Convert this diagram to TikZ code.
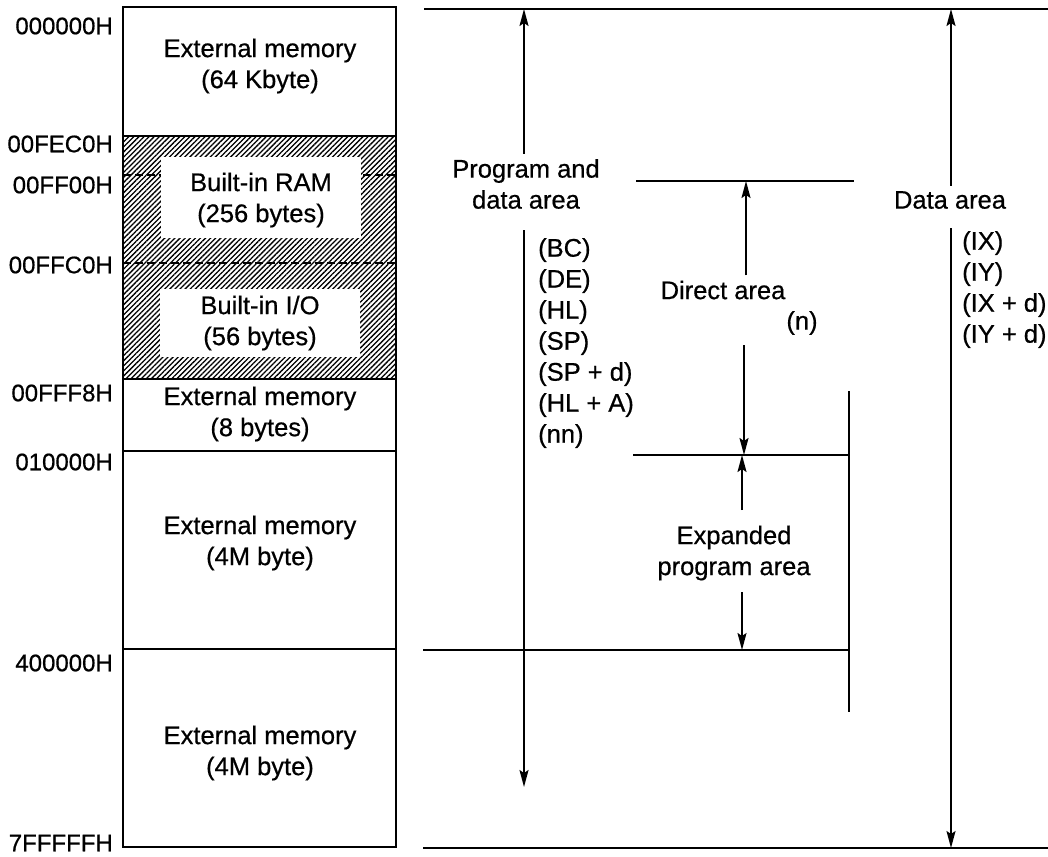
\documentclass[tikz,border=0pt]{standalone}
\usepackage{fontspec}
\setmainfont{Liberation Sans}[UprightFeatures={FakeBold=0.6}]
\usetikzlibrary{arrows.meta,patterns.meta}

\begin{document}
\begin{tikzpicture}[x=1pt,y=-1pt,
    txt/.style={font=\fontsize{25.5}{31}\selectfont, inner sep=0pt, align=center},
    addr/.style={txt, font=\fontsize{24}{28}\selectfont, anchor=east},
    lst/.style={txt, align=left, anchor=north west},
    ln/.style={line width=1.8pt},
    dim/.style={ln, -{Stealth[length=17pt,width=9pt,inset=3pt]}},
    hatch/.style={pattern={Lines[angle=45,distance=3.6pt,line width=1.3pt]}},
    sep/.style={ln, dash pattern=on 8pt off 4pt}
  ]
  \useasboundingbox (0,0) rectangle (1048,856);
  % memory map
  \fill[hatch] (123,136) rectangle (396,379);
  \draw[sep] (123,175) -- (396,175);
  \draw[sep] (123,263) -- (396,263);
  \fill[white] (161,157) rectangle (361,238);
  \fill[white] (160,289) rectangle (360,357);
  \draw[ln] (123,7) rectangle (396,847);
  \foreach \y in {136,379,451,649}
    \draw[ln] (123,\y) -- (396,\y);

  \node[txt] (ext1) at (260,66) {External memory\\(64 Kbyte)};
  \node[txt] (ram) at (261,200) {Built-in RAM\\(256 bytes)};
  \node[txt] (io) at (260,323) {Built-in I/O\\(56 bytes)};
  \node[txt] (ext2) at (260,414) {External memory\\(8 bytes)};
  \node[txt] (ext3) at (260,543) {External memory\\(4M byte)};
  \node[txt] (ext4) at (260,753) {External memory\\(4M byte)};

  \node[addr] (a0) at (113,26) {000000H};
  \node[addr] (a1) at (113,144) {00FEC0H};
  \node[addr] (a2) at (113,185) {00FF00H};
  \node[addr] (a3) at (113,265) {00FFC0H};
  \node[addr] (a4) at (113,393) {00FFF8H};
  \node[addr] (a5) at (113,462) {010000H};
  \node[addr] (a6) at (113,663) {400000H};
  \node[addr] (a7) at (113,843) {7FFFFFH};

  % area lines
  \draw[ln] (424,9) -- (1048,9);
  \draw[ln] (423,848) -- (1048,848);
  \draw[ln] (636,181) -- (854,181);
  \draw[ln] (633,455) -- (849,455);
  \draw[ln] (423,650) -- (849,650);
  \draw[ln] (849,391) -- (849,712);

  % program and data area
  \coordinate (ptop) at (524,9);
  \coordinate (pbar) at (524,230);
  \coordinate (pend) at (524,787);
  \node[txt, inner sep=5pt] (prog) at (526,184) {Program and\\data area};
  \draw[dim] (prog.north -| ptop) -- (ptop);
  \draw[dim] (pbar) -- (pend);
  \node[lst] (proglist) at (538,238) {(BC)\\(DE)\\(HL)\\(SP)\\(SP + d)\\(HL + A)\\(nn)};

  % direct area
  \coordinate (dtop) at (746,181);
  \coordinate (dlow) at (744,345);
  \coordinate (dend) at (744,455);
  \node[txt, inner sep=5pt] (direct) at (723,290) {Direct area};
  \node[txt] (dn) at (802,323) {(n)};
  \draw[dim] (direct.north -| dtop) -- (dtop);
  \draw[dim] (dlow) -- (dend);

  % expanded program area
  \coordinate (eup) at (742,510);
  \coordinate (etop) at (742,455);
  \coordinate (elow) at (742,592);
  \coordinate (eend) at (742,650);
  \node[txt] (expand) at (734,553) {Expanded\\program area};
  \draw[dim] (eup) -- (etop);
  \draw[dim] (elow) -- (eend);

  % data area
  \coordinate (xtop) at (951,9);
  \coordinate (xbar) at (951,228);
  \coordinate (xend) at (951,848);
  \node[txt, inner sep=5pt] (data) at (950,200) {Data area};
  \draw[dim] (data.north -| xtop) -- (xtop);
  \draw[dim] (xbar) -- (xend);
  \node[lst] (datalist) at (962,231) {(IX)\\(IY)\\(IX + d)\\(IY + d)};
\end{tikzpicture}
\end{document}
